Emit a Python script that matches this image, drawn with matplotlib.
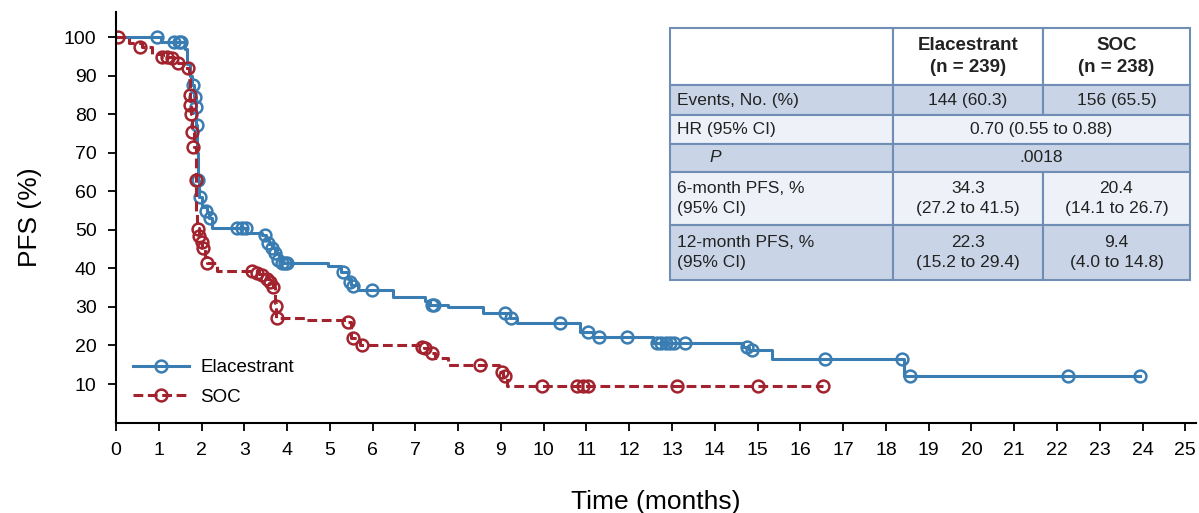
import numpy as np
import matplotlib.pyplot as plt
from matplotlib.patches import Rectangle
from matplotlib.lines import Line2D

plt.rcParams["font.family"] = ["Liberation Sans", "DejaVu Sans"]

BLUE = "#3a7db3"
RED = "#a2232d"

# Kaplan-Meier step data (months, PFS %)
ela_t = [0, 1.05, 1.62, 1.66, 1.72, 1.78, 1.83, 1.86, 1.88, 1.90, 1.92, 1.95,
         2.02, 2.12, 2.18, 2.25, 3.05, 3.42, 3.50, 3.58, 3.65, 3.72, 3.80, 3.88,
         4.95, 5.25, 5.42, 5.50, 5.65, 6.48, 7.23, 7.35, 7.77, 8.59, 9.20, 9.37,
         10.85, 11.16, 12.55, 14.66, 14.80, 15.34, 18.42, 23.93]
ela_s = [100, 98.6, 97, 93, 90, 87.5, 84.4, 81.8, 77.2, 70, 63, 58.5,
         56, 54.6, 53, 50.5, 49.3, 48.6, 47.5, 46.3, 45.2, 44, 42.3, 41.5,
         40.5, 39, 37.3, 35.8, 34.3, 32.7, 31.5, 30.6, 30, 28.4, 27.2, 25.8,
         23.5, 22.2, 20.6, 19.5, 18.8, 16.5, 12.2, 12.2]
ela_cens_t = [0.95, 1.36, 1.47, 1.53, 1.80, 1.85, 1.87, 1.89, 1.92, 1.96, 2.10,
              2.20, 2.83, 2.95, 3.04, 3.48, 3.56, 3.65, 3.72, 3.79, 3.88, 3.95,
              4.00, 5.31, 5.47, 5.55, 5.98, 7.38, 7.43, 9.10, 9.24, 10.38, 11.04,
              11.30, 11.95, 12.65, 12.75, 12.85, 12.95, 13.05, 13.30, 14.75,
              14.87, 16.58, 18.38, 18.57, 22.26, 23.93]
ela_cens_s = [100, 98.6, 98.6, 98.6, 87.5, 84.4, 81.8, 77.2, 63, 58.5, 55,
              53, 50.5, 50.5, 50.5, 48.6, 46.5, 45.3, 44, 42.3, 41.5, 41.5,
              41.5, 39, 36.5, 35.5, 34.3, 30.6, 30.6, 28.4, 27.2, 25.8, 23.5,
              22.2, 22.2, 20.6, 20.6, 20.6, 20.6, 20.6, 20.6, 19.5,
              18.8, 16.5, 16.5, 12.2, 12.2, 12.2]

soc_t = [0, 0.30, 0.60, 0.85, 1.10, 1.35, 1.45, 1.60, 1.70, 1.72, 1.74, 1.76,
         1.78, 1.82, 1.86, 1.88, 1.90, 1.93, 1.97, 2.02, 2.08, 2.12, 2.35, 3.35,
         3.45, 3.52, 3.60, 3.66, 3.72, 3.75, 4.45, 5.42, 5.50, 5.70, 7.20, 7.35,
         7.45, 7.77, 8.95, 9.05, 9.15, 16.52]
soc_s = [100, 98.5, 97.4, 95.5, 94.8, 94, 93.3, 92, 89, 85, 82.5, 80,
         75.5, 71.5, 63, 55, 50.5, 48.5, 46.8, 45.3, 43, 41.3, 39.3, 38.6,
         38, 37.3, 36.4, 35.2, 31, 27.2, 26.6, 26, 21.9, 20.1, 19.3, 18,
         16.7, 14.9, 13, 12, 9.4, 9.4]
soc_cens_t = [0.05, 0.56, 1.08, 1.19, 1.31, 1.45, 1.68, 1.72, 1.73, 1.76, 1.77,
              1.80, 1.86, 1.91, 1.95, 2.00, 2.04, 2.12, 3.18, 3.29, 3.41, 3.53,
              3.60, 3.67, 3.74, 3.76, 5.43, 5.55, 5.75, 7.15, 7.23, 7.39, 8.52,
              9.03, 9.10, 9.96, 10.78, 10.92, 11.04, 13.12, 15.00, 16.52]
soc_cens_s = [100, 97.4, 94.8, 94.8, 94.5, 93.3, 92, 85, 82.5, 80, 75.5,
              71.5, 63, 50.3, 48.3, 46.8, 45.3, 41.3, 39.3, 38.8, 38.3, 37.3,
              36.4, 35.2, 30.2, 27.2, 26, 21.9, 20.1, 19.6, 19.3, 18, 14.9,
              13, 12, 9.4, 9.4, 9.4, 9.4, 9.4, 9.4, 9.4]

x_ticks = list(range(0, 26))
y_ticks = list(range(10, 101, 10))

# summary table
col_heads = ["", "Elacestrant\n(n = 239)", "SOC\n(n = 238)"]
row_labels = ["Events, No. (%)", "HR (95% CI)", "P", "6-month PFS, %\n(95% CI)",
              "12-month PFS, %\n(95% CI)"]
ela_vals = ["144 (60.3)", None, None, "34.3\n(27.2 to 41.5)", "22.3\n(15.2 to 29.4)"]
soc_vals = ["156 (65.5)", None, None, "20.4\n(14.1 to 26.7)", "9.4\n(4.0 to 14.8)"]
merged_vals = [None, "0.70 (0.55 to 0.88)", ".0018", None, None]

W, H = 1199, 513
fig = plt.figure(figsize=(W / 100, H / 100), dpi=100)
ax = fig.add_axes([116 / W, 1 - 422.6 / H, 1080 / W, 410.6 / H])

dash = (0, (3.2, 1.5))
ax.step(ela_t, ela_s, where="post", color=BLUE, lw=2.2)
ax.plot(ela_cens_t, ela_cens_s, "o", ms=8.5, mfc="none", mec=BLUE, mew=1.8)
ax.step(soc_t, soc_s, where="post", color=RED, lw=2.2, ls=dash)
ax.plot(soc_cens_t, soc_cens_s, "o", ms=8.5, mfc="none", mec=RED, mew=1.8)

ax.set_xlim(0, 25.25)
ax.set_ylim(0, 106.5)
ax.set_xticks(x_ticks)
ax.set_yticks(y_ticks)
ax.tick_params(direction="out", length=6, width=1.3, labelsize=14, pad=8)
for s in ["top", "right"]:
    ax.spines[s].set_visible(False)
for s in ["left", "bottom"]:
    ax.spines[s].set_linewidth(1.5)
ax.set_xlabel("Time (months)", fontsize=19, labelpad=22)
ax.set_ylabel("PFS (%)", fontsize=19, labelpad=16)

handles = [Line2D([], [], color=BLUE, lw=2.2, marker="o", ms=8.5, mfc="none", mew=1.8),
           Line2D([], [], color=RED, lw=2.2, ls=dash, marker="o", ms=8.5,
                  mfc="none", mew=1.8)]
ax.legend(handles, ["Elacestrant", "SOC"], loc="lower left", bbox_to_anchor=(0.0, 0.0),
          frameon=False, fontsize=13.5, handlelength=3.0, numpoints=1, handletextpad=0.6,
          labelspacing=0.65)

# table drawn in figure pixels
col_x = [670, 893, 1043, 1190]
row_y = [28, 85, 115, 144, 172, 225, 280]
shade = ["white", "#c9d5e6", "#eef2f8", "#c9d5e6", "#eef2f8", "#c9d5e6"]
edge = "#6f8db5"


def fx(px):
    return px / W


def fy(py):
    return 1 - py / H


def cell(x0, x1, r, color):
    fig.add_artist(Rectangle((fx(x0), fy(row_y[r + 1])), fx(x1) - fx(x0),
                             fy(row_y[r]) - fy(row_y[r + 1]), facecolor=color,
                             edgecolor=edge, lw=1.5, transform=fig.transFigure))


def txt(x, r, s, ha="center", size=12.5, **kw):
    yc = (row_y[r] + row_y[r + 1]) / 2
    fig.text(fx(x), fy(yc), s, ha=ha, va="center", fontsize=size,
             linespacing=1.45, color="#222222", **kw)


# header
for c in range(3):
    cell(col_x[c], col_x[c + 1], 0, shade[0])
for c in (1, 2):
    txt((col_x[c] + col_x[c + 1]) / 2, 0, col_heads[c], size=13.5,
        fontweight="bold")

for i, lab in enumerate(row_labels):
    r = i + 1
    cell(col_x[0], col_x[1], r, shade[r])
    if merged_vals[i] is not None:
        cell(col_x[1], col_x[3], r, shade[r])
        txt((col_x[1] + col_x[3]) / 2, r, merged_vals[i])
    else:
        cell(col_x[1], col_x[2], r, shade[r])
        cell(col_x[2], col_x[3], r, shade[r])
        txt((col_x[1] + col_x[2]) / 2, r, ela_vals[i])
        txt((col_x[2] + col_x[3]) / 2, r, soc_vals[i])
    if lab == "P":
        txt(col_x[0] + 45, r, lab, ha="center", fontstyle="italic")
    else:
        txt(col_x[0] + 7, r, lab, ha="left")

fig.savefig("out.png", dpi=100)
